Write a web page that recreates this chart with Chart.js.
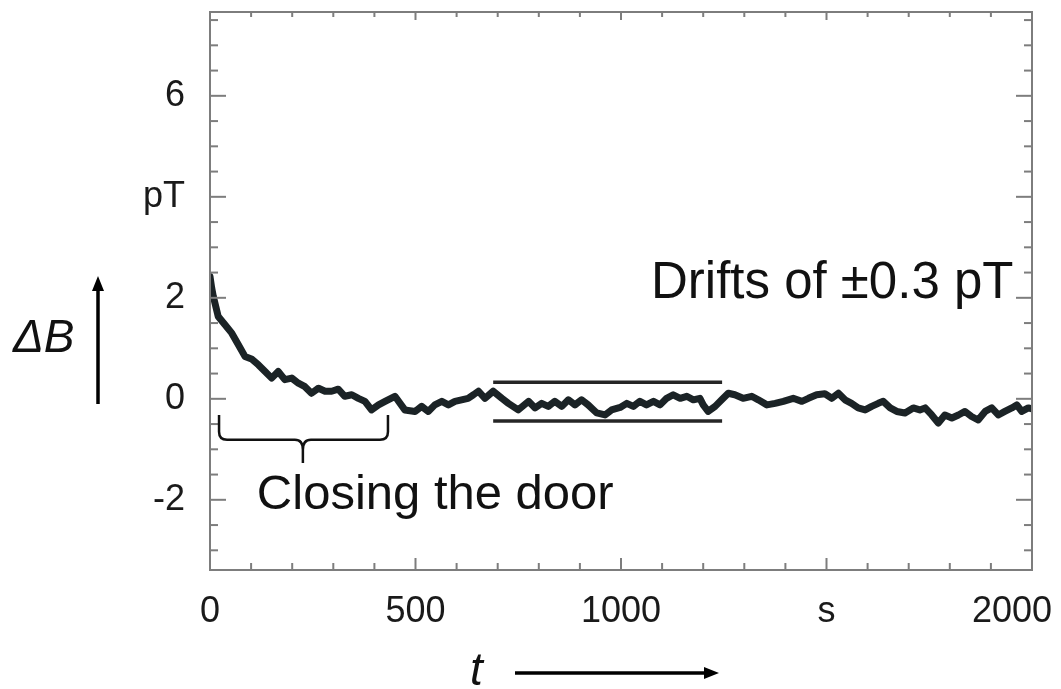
<!DOCTYPE html>
<html>
<head>
<meta charset="utf-8">
<title>Field drift after closing the door</title>
<script src="https://cdn.jsdelivr.net/npm/chart.js@4.4.1/dist/chart.umd.min.js"></script>
<style>
  html, body { margin: 0; padding: 0; background: #fff; }
  #wrap { position: relative; width: 1061px; height: 689px; }
</style>
</head>
<body>
<div id="wrap"><canvas id="fieldChart" width="1061" height="689"></canvas></div>
<script>
// time axis (s)
const times = [
  0, 4, 8, 20, 36, 53, 69, 85, 101, 118, 134, 150, 166, 182, 199, 215, 231, 247, 264, 280,
  296, 312, 328, 345, 361, 377, 393, 410, 426, 450, 474, 499, 515, 531, 547, 564, 580, 596, 612, 628,
  641, 653, 669, 689, 710, 726, 750, 775, 791, 807, 823, 839, 856, 872, 888, 904, 920, 941, 961, 977,
  998, 1014, 1030, 1046, 1062, 1079, 1095, 1111, 1127, 1144, 1160, 1176, 1192, 1200, 1212, 1229, 1245, 1261, 1277, 1297,
  1318, 1334, 1355, 1375, 1395, 1419, 1440, 1456, 1476, 1496, 1513, 1529, 1545, 1561, 1577, 1594, 1610, 1626, 1638, 1655,
  1671, 1691, 1711, 1727, 1740, 1756, 1772, 1788, 1805, 1821, 1837, 1853, 1869, 1886, 1902, 1918, 1934, 1951, 1963, 1975,
  1991, 2000
];
// field change (pT)
const deltaB = [
  2.42, 2.2, 2.03, 1.63, 1.47, 1.30, 1.07, 0.84, 0.79, 0.67, 0.54, 0.41, 0.54, 0.38, 0.41, 0.31, 0.24, 0.11, 0.21, 0.15,
  0.15, 0.19, 0.05, 0.08, 0.01, -0.05, -0.22, -0.12, -0.05, 0.05, -0.22, -0.25, -0.15, -0.25, -0.12, -0.05, -0.12, -0.05, -0.02, 0.01,
  0.08, 0.15, 0.01, 0.15, 0.01, -0.09, -0.22, -0.05, -0.18, -0.09, -0.15, -0.05, -0.15, -0.02, -0.12, -0.02, -0.12, -0.28, -0.32, -0.22,
  -0.17, -0.09, -0.15, -0.05, -0.12, -0.05, -0.12, 0.01, 0.08, 0.01, 0.05, -0.02, 0.01, -0.12, -0.25, -0.15, -0.02, 0.11, 0.08, 0.01,
  0.05, -0.02, -0.12, -0.09, -0.05, 0.01, -0.05, 0.01, 0.08, 0.10, 0.01, 0.11, -0.02, -0.09, -0.18, -0.22, -0.15, -0.09, -0.05, -0.18,
  -0.25, -0.28, -0.18, -0.22, -0.18, -0.32, -0.48, -0.32, -0.38, -0.32, -0.25, -0.35, -0.42, -0.25, -0.18, -0.32, -0.25, -0.18, -0.12, -0.25,
  -0.18, -0.20
];
// drift band
const driftTimes = [689, 1246];
const driftUpper = [0.33, 0.33];
const driftLower = [-0.44, -0.44];
// tick labels
const xTickLabels = { '0': '0', '500': '500', '1000': '1000', '1500': 's', '2000': '2000    ' };
const yTickLabels = { '-2': '-2', '0': '0', '2': '2', '4': 'pT', '6': '6' };

const FONT = "'Liberation Sans', Arial, sans-serif";
const AXIS_GREY = '#7d7d7d';

const toPoints = (xs, ys) => xs.map((x, i) => ({ x: x, y: ys[i] }));

function line(ctx, x1, y1, x2, y2) {
  ctx.beginPath();
  ctx.moveTo(x1, y1);
  ctx.lineTo(x2, y2);
  ctx.stroke();
}

function arrowHead(ctx, x, y, dir) {
  // dir: 'up' or 'right'
  ctx.beginPath();
  if (dir === 'up') {
    ctx.moveTo(x, y);
    ctx.lineTo(x - 6, y + 15);
    ctx.lineTo(x + 6, y + 15);
  } else {
    ctx.moveTo(x, y);
    ctx.lineTo(x - 15, y - 6);
    ctx.lineTo(x - 15, y + 6);
  }
  ctx.closePath();
  ctx.fill();
}

const decorations = {
  id: 'decorations',
  afterDraw(chart) {
    const { ctx, chartArea: a, scales: { x, y } } = chart;
    ctx.save();

    // frame + inward ticks
    ctx.strokeStyle = AXIS_GREY;
    ctx.lineWidth = 2;
    ctx.strokeRect(a.left, a.top, a.right - a.left, a.bottom - a.top);
    x.ticks.forEach(t => {
      const px = x.getPixelForValue(t.value);
      const major = t.value % 500 === 0;
      line(ctx, px, a.bottom, px, a.bottom - (major ? 12 : 7));
      line(ctx, px, a.top, px, a.top + (major ? 8 : 5));
    });
    y.ticks.forEach(t => {
      const py = y.getPixelForValue(t.value);
      const major = Math.abs(t.value % 2) < 1e-9;
      line(ctx, a.left, py, a.left + (major ? 16 : 8), py);
      line(ctx, a.right, py, a.right - (major ? 16 : 8), py);
    });

    // brace under the door-closing part
    ctx.strokeStyle = '#111';
    ctx.lineWidth = 2.5;
    const bl = x.getPixelForValue(22), br = x.getPixelForValue(433), bm = x.getPixelForValue(226);
    const bTop = y.getPixelForValue(-0.32), bMid = y.getPixelForValue(-0.81), bTip = y.getPixelForValue(-1.27);
    ctx.beginPath();
    ctx.moveTo(bl, bTop);
    ctx.lineTo(bl, bMid - 8);
    ctx.quadraticCurveTo(bl, bMid, bl + 8, bMid);
    ctx.lineTo(bm - 8, bMid);
    ctx.quadraticCurveTo(bm, bMid, bm, bMid + 10);
    ctx.lineTo(bm, bTip);
    ctx.moveTo(bm, bMid + 10);
    ctx.quadraticCurveTo(bm, bMid, bm + 8, bMid);
    ctx.lineTo(br - 8, bMid);
    ctx.quadraticCurveTo(br, bMid, br, bMid - 8);
    ctx.lineTo(br, bTop);
    ctx.stroke();

    // annotations
    ctx.fillStyle = '#111';
    ctx.textBaseline = 'alphabetic';
    ctx.textAlign = 'left';
    ctx.font = '49px ' + FONT;
    ctx.fillText('Closing the door', x.getPixelForValue(114), y.getPixelForValue(-2.18));
    ctx.font = '51px ' + FONT;
    ctx.fillText('Drifts of \u00b10.3 pT', x.getPixelForValue(1073), y.getPixelForValue(2.0));

    // axis titles with arrows
    ctx.font = 'italic 46px ' + FONT;
    ctx.fillText('\u0394B', 13, 352);
    ctx.fillText('t', 470, 685);
    ctx.strokeStyle = '#000';
    ctx.fillStyle = '#000';
    ctx.lineWidth = 3.5;
    line(ctx, 98, 404, 98, 288);
    arrowHead(ctx, 98, 276, 'up');
    line(ctx, 515, 673, 706, 673);
    arrowHead(ctx, 719, 673, 'right');

    ctx.restore();
  }
};

new Chart(document.getElementById('fieldChart'), {
  type: 'line',
  data: {
    datasets: [
      {
        label: 'ΔB',
        data: toPoints(times, deltaB),
        borderColor: '#1b2326',
        borderWidth: 7,
        pointRadius: 0,
        tension: 0,
        borderJoinStyle: 'round',
        borderCapStyle: 'round'
      },
      {
        label: 'upper',
        data: toPoints(driftTimes, driftUpper),
        borderColor: '#262626',
        borderWidth: 3.5,
        pointRadius: 0
      },
      {
        label: 'lower',
        data: toPoints(driftTimes, driftLower),
        borderColor: '#262626',
        borderWidth: 3.5,
        pointRadius: 0
      }
    ]
  },
  options: {
    responsive: false,
    animation: false,
    devicePixelRatio: 1,
    layout: { padding: { left: 0, right: 29, top: 12, bottom: 0 } },
    plugins: { legend: { display: false }, tooltip: { enabled: false } },
    scales: {
      x: {
        type: 'linear',
        min: 0,
        max: 2000,
        grid: { display: false },
        border: { display: false },
        ticks: {
          stepSize: 100,
          autoSkip: false,
          maxRotation: 0,
          padding: 12,
          color: '#1a1a1a',
          font: { family: FONT, size: 36 },
          callback: v => xTickLabels[String(v)] || ''
        },
        afterFit(scale) {
          scale.height = 119;
          scale.paddingLeft = 0;
          scale.paddingRight = 0;
        }
      },
      y: {
        type: 'linear',
        min: -3.39,
        max: 7.66,
        grid: { display: false },
        border: { display: false },
        afterBuildTicks(scale) {
          const ticks = [];
          for (let v = -3; v <= 7.5; v += 0.5) ticks.push({ value: v });
          scale.ticks = ticks;
        },
        ticks: {
          autoSkip: false,
          padding: 17,
          color: '#1a1a1a',
          font: { family: FONT, size: 36 },
          callback: v => yTickLabels[String(v)] || ''
        },
        afterFit(scale) {
          scale.width = 210;
          scale.paddingTop = 0;
          scale.paddingBottom = 0;
        }
      }
    }
  },
  plugins: [decorations]
});
</script>
</body>
</html>
